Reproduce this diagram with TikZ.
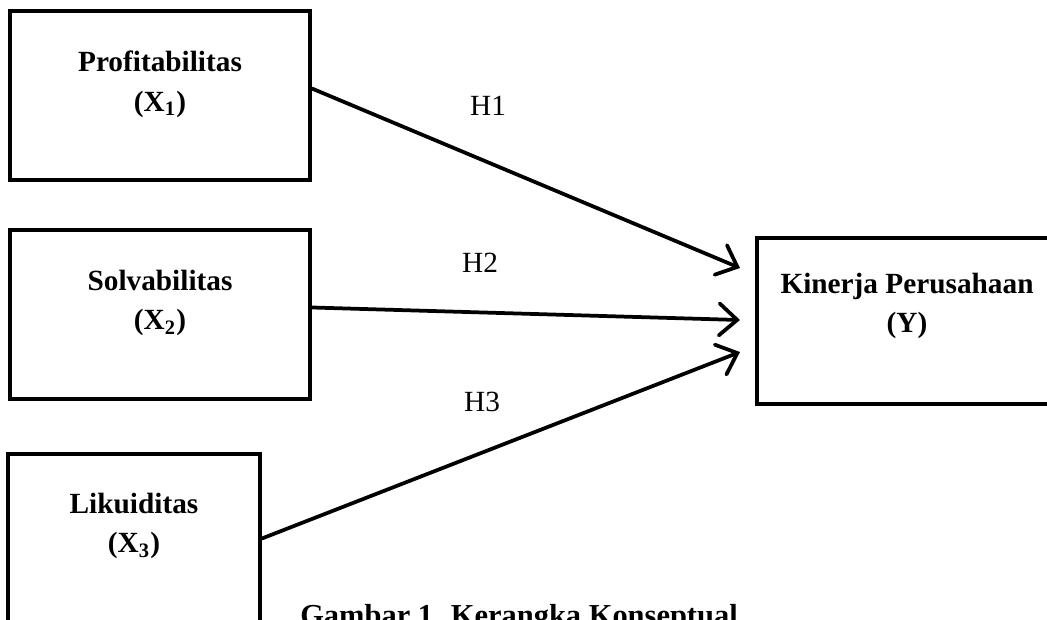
\documentclass[tikz,border=0pt]{standalone}
\usepackage{fontspec}
\setmainfont{Liberation Serif}
\usetikzlibrary{arrows.meta}
\tikzstyle{kotak} = [draw, line width=1.6pt, minimum width=4.5cm, minimum height=2.53cm, inner sep=0pt]
\tikzstyle{judul} = [font=\fontsize{12.5}{17}\selectfont\bfseries, align=center]
\tikzstyle{panah} = [line width=1.6pt, line cap=round, -{Straight Barb[length=2.7mm,width=4.8mm,line cap=round]}]
\tikzstyle{hip} = [font=\fontsize{12.5}{14}\selectfont]

\begin{document}
\begin{tikzpicture}[x=0.015cm,y=-0.015cm]
\useasboundingbox (0,0) rectangle (1047,619);

% variabel bebas
\node[kotak] (x1) at (160,95.5) {};
\node[judul] (t1) at (160,84) {Profitabilitas\\(X\textsubscript{1})};
\node[kotak] (x2) at (160,314.5) {};
\node[judul] (t2) at (160,303) {Solvabilitas\\(X\textsubscript{2})};
\node[kotak, minimum width=3.78cm] (x3) at (134,538.5) {};
\node[judul] (t3) at (134,526) {Likuiditas\\(X\textsubscript{3})};

% variabel terikat
\node[kotak, minimum height=2.49cm] (y) at (907,321) {};
\node[judul] (ty) at (907,306) {Kinerja Perusahaan\\(Y)};

% ujung panah
\coordinate (u1) at (740,268);
\coordinate (u2) at (740,320);
\coordinate (u3) at (740,352);

\draw[panah] ([yshift=3pt]x1.east) -- (u1);
\draw[panah] ([yshift=3pt]x2.east) -- (u2);
\draw[panah] (x3.east) -- (u3);

\node[hip] (h1) at (488,106) {H1};
\node[hip] (h2) at (480,263) {H2};
\node[hip] (h3) at (482,402) {H3};

\node[font=\fontsize{13}{15}\selectfont\bfseries, anchor=base west] (cap) at (292,625) {Gambar 1. Kerangka Konseptual};

\end{tikzpicture}
\end{document}
